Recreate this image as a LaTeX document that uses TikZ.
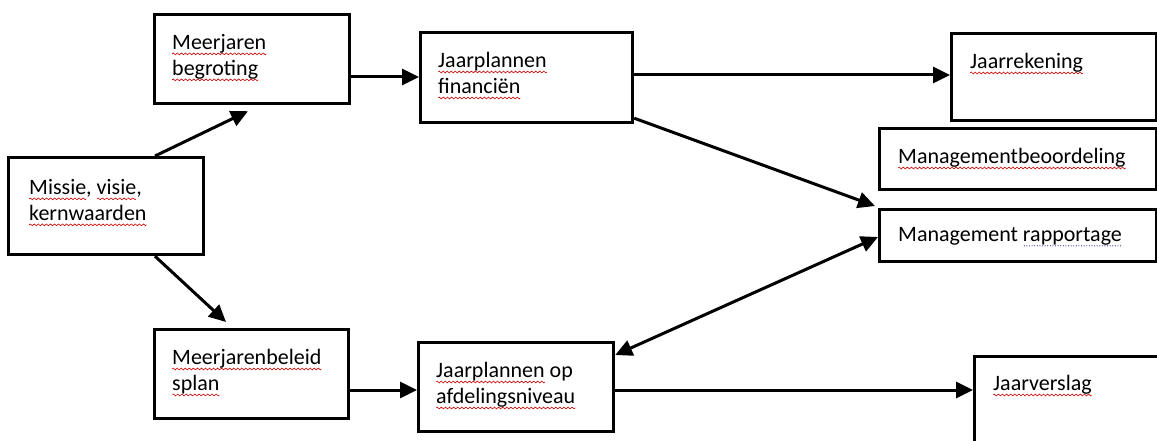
\documentclass[tikz,border=0pt]{standalone}
\usepackage{fontspec}
\setmainfont{Carlito}
\usetikzlibrary{arrows.meta,calc}
\newsavebox\wavebox
\newsavebox\dotbox
\sbox\wavebox{\tikz[baseline=0pt]{\useasboundingbox (0pt,-1pt) rectangle (4pt,1pt);\draw[line width=0.6pt, red!80!black, line cap=round] (0pt,0pt) -- (1pt,0.9pt) -- (3pt,-0.9pt) -- (4pt,0pt);}}
\sbox\dotbox{\tikz[baseline=0pt]{\useasboundingbox (0pt,-1pt) rectangle (2.6pt,1pt);\fill[blue!45!black] (1.3pt,0pt) circle (0.55pt);}}
\newcommand\sq[1]{\setbox0=\hbox{#1}\rlap{\lower4.5pt\hbox to \wd0{\xleaders\copy\wavebox\hfill}}\box0\relax}
\newcommand\sqd[1]{\setbox0=\hbox{#1}\rlap{\lower4.5pt\hbox to \wd0{\xleaders\copy\dotbox\hfill}}\box0\relax}
\begin{document}
\begin{tikzpicture}[x=1pt,y=-1pt,
  box/.style={draw, line width=3.2pt, rectangle, inner sep=0pt, anchor=north west},
  txt/.style={anchor=north west, inner sep=0pt, align=left, font=\fontsize{22}{26}\selectfont, text=black},
  arr/.style={line width=3pt, -{Triangle[length=17pt,width=16pt]}},
  darr/.style={line width=3pt, {Triangle[length=17pt,width=16pt]}-{Triangle[length=17pt,width=16pt]}}]
\useasboundingbox (0,0) rectangle (1157,441);
\clip (0,0) rectangle (1157,441);
\fill[white] (0,0) rectangle (1157,441);

% boxes
\node[box, minimum width=195pt, minimum height=89pt] (mb) at (153,13) {};
\node[box, minimum width=195pt, minimum height=97pt] (mv) at (7,156) {};
\node[box, minimum width=194pt, minimum height=89pt] (mbp) at (153,328) {};
\node[box, minimum width=212pt, minimum height=90pt] (jf) at (419,31) {};
\node[box, minimum width=195pt, minimum height=89pt] (jo) at (417,341) {};
\node[box, minimum width=205pt, minimum height=87pt] (jr) at (950,32) {};
\node[box, minimum width=277pt, minimum height=61pt] (mbo) at (878,127) {};
\node[box, minimum width=277pt, minimum height=52pt] (mr) at (878,208) {};
\node[box, minimum width=220pt, minimum height=120pt] (jv) at (973,355) {};

% texts
\node[txt] (mbt) at ([shift={(19pt,-21pt)}]mb.north west) {\sq{Meerjaren}\\\sq{begroting}};
\node[txt] (mvt) at ([shift={(22pt,-23pt)}]mv.north west) {\sq{Missie}, \sq{visie},\\\sq{kernwaarden}};
\node[txt] (mbpt) at ([shift={(19pt,-21pt)}]mbp.north west) {\sq{Meerjarenbeleid}\\\sq{splan}};
\node[txt] (jft) at ([shift={(19pt,-21pt)}]jf.north west) {\sq{Jaarplannen}\\\sq{financiën}};
\node[txt] (jot) at ([shift={(19pt,-21pt)}]jo.north west) {\sq{Jaarplannen} op\\\sq{afdelingsniveau}};
\node[txt] (jrt) at ([shift={(20pt,-21pt)}]jr.north west) {\sq{Jaarrekening}};
\node[txt] (mbot) at ([shift={(20pt,-21pt)}]mbo.north west) {\sq{Managementbeoordeling}};
\node[txt] (mrt) at ([shift={(20pt,-19pt)}]mr.north west) {Management \sqd{rapportage}};
\node[txt] (jvt) at ([shift={(20pt,-20pt)}]jv.north west) {\sq{Jaarverslag}};

% connectors
\draw[arr] ([xshift=148pt]mv.north west) -- ([shift={(95pt,-6pt)}]mb.south west);
\draw[arr] ([xshift=148pt]mv.south west) -- ([shift={(73pt,6pt)}]mbp.north west);
\coordinate (a1) at ([yshift=-64pt]mb.north east);
\draw[arr] (a1) -- (a1 -| jf.west);
\coordinate (a2) at ([yshift=-44pt]jf.north east);
\draw[arr] (a2) -- (a2 -| jr.west);
\draw[arr] ([yshift=6pt]jf.south east) -- ([shift={(-3pt,2pt)}]mr.north west);
\draw[darr] ([yshift=-14pt]jo.north east) -- ([yshift=-29pt]mr.north west);
\coordinate (a3) at ([yshift=-62pt]mbp.north east);
\draw[arr] (a3) -- (a3 -| jo.west);
\coordinate (a4) at ([yshift=-49pt]jo.north east);
\draw[arr] (a4) -- (a4 -| jv.west);
\end{tikzpicture}
\end{document}
